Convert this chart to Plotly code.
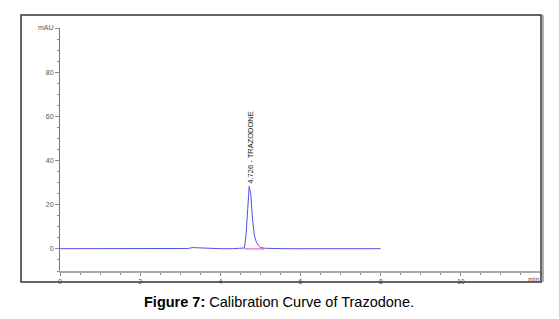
import plotly.graph_objects as go

# Chromatogram data
time_min = [0.0, 0.5, 1.0, 1.5, 2.0, 2.5, 3.0, 3.2, 3.3, 3.4, 3.5, 3.6, 3.8, 4.0, 4.3, 4.55,
            4.6, 4.64, 4.68, 4.72, 4.76, 4.8, 4.85, 4.9, 4.95, 5.0, 5.1, 5.3, 5.6, 6.0, 6.5, 7.0, 7.5, 8.0]
absorbance = [0.1, 0.1, 0.0, 0.1, 0.0, 0.1, 0.1, 0.2, 0.6, 0.5, 0.3, 0.2, 0.1, 0.1, 0.1, 0.1,
              0.4, 6.0, 18.0, 28.3, 25.0, 14.0, 6.0, 3.0, 1.5, 0.7, 0.3, 0.1, 0.1, 0.1, 0.1, 0.0, 0.1, 0.1]

# baseline segment under the peak
baseline_x = [4.6, 5.1]
baseline_y = [0.0, 0.0]

peak_rt = 4.726
peak_height = 28.3
peak_label = "4.726 - TRAZODONE"

x_tickvals = [0, 2, 4, 6, 8, 10]
x_ticktext = ["0", "2", "4", "6", "8", "10"]
x_unit = "min"
y_tickvals = [0, 20, 40, 60, 80, 100]
y_ticktext = ["0", "20", "40", "60", "80", "mAU"]

caption_bold = "Figure 7:"
caption_text = " Calibration Curve of Trazodone."

FONT = "Liberation Sans, Arial, sans-serif"

fig = go.Figure()
fig.add_trace(go.Scatter(x=time_min, y=absorbance, mode="lines",
                         line=dict(color="#5050e6", width=1), hoverinfo="skip"))
fig.add_trace(go.Scatter(x=baseline_x, y=baseline_y, mode="lines",
                         line=dict(color="#e040c8", width=1), hoverinfo="skip"))

fig.add_annotation(x=peak_rt + 0.02, y=peak_height, text=peak_label, textangle=-90,
                   showarrow=False, xanchor="center", yanchor="bottom", yshift=1,
                   font=dict(family=FONT, size=7.5, color="#222"))

# unit label at the right end of the x axis
fig.add_annotation(x=12, y=-10, text=x_unit, showarrow=False, xanchor="right", yanchor="top",
                   yshift=-3, font=dict(family=FONT, size=7, color="#555"))

# outer frame
fig.add_shape(type="rect", xref="paper", yref="paper", x0=-0.081, x1=1.0, y0=-0.0453, y1=1.0535,
              line=dict(color="#333", width=1.5), layer="above")
fig.add_shape(type="line", xref="paper", yref="paper", x0=1.004, x1=1.004, y0=-0.0453, y1=1.0535,
              line=dict(color="#aaa", width=2), layer="above")

fig.add_annotation(xref="paper", yref="paper", x=0.455, y=-0.088, xanchor="center", yanchor="top",
                   text="<b>" + caption_bold + "</b>" + caption_text, showarrow=False,
                   font=dict(family=FONT, size=14.5, color="#000"))

fig.update_layout(
    width=551, height=311,
    margin=dict(l=52, r=18, t=20, b=48),
    paper_bgcolor="white", plot_bgcolor="white",
    showlegend=False,
    font=dict(family=FONT, size=7, color="#555"),
    xaxis=dict(range=[0, 12], tickvals=x_tickvals, ticktext=x_ticktext,
               showgrid=False, zeroline=False, showline=True, linecolor="#aaa", linewidth=1.5,
               ticks="outside", ticklen=3, tickcolor="#888", tickfont=dict(size=7, color="#555"),
               minor=dict(dtick=0.5, ticks="outside", ticklen=2, tickcolor="#888"),
               fixedrange=True),
    yaxis=dict(range=[-10, 100], tickvals=y_tickvals, ticktext=y_ticktext,
               showgrid=False, zeroline=False, showline=True, linecolor="#777", linewidth=1,
               ticks="outside", ticklen=4, tickcolor="#888", tickfont=dict(size=7, color="#555"),
               minor=dict(dtick=5, ticks="outside", ticklen=2, tickcolor="#888"),
               fixedrange=True),
)

fig.write_html("out.html")
